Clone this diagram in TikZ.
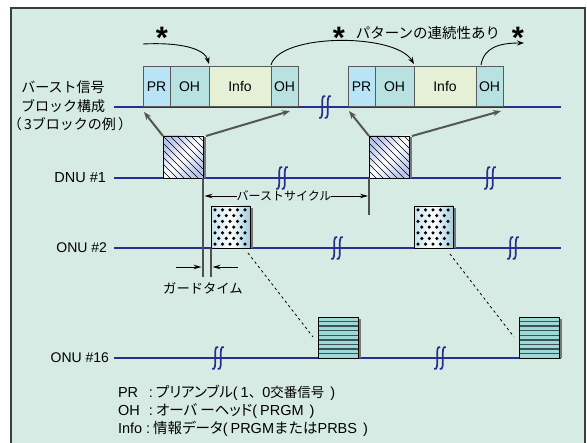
\documentclass[tikz,border=0pt]{standalone}
\usepackage{fontspec}
\setmainfont{Liberation Sans}
\newfontfamily\jp{Noto Sans CJK JP}
\newfontfamily\jpp[RawFeature={+palt}]{Noto Sans CJK JP}
\usetikzlibrary{arrows.meta,calc}
\definecolor{bg}{RGB}{214,235,227}
\definecolor{framec}{RGB}{60,60,60}
\definecolor{lineblue}{RGB}{38,48,140}
\definecolor{blkborder}{RGB}{90,90,90}
\definecolor{prc}{RGB}{185,228,245}
\definecolor{ohc}{RGB}{184,226,226}
\definecolor{infoc}{RGB}{230,240,215}
\definecolor{arrgrey}{RGB}{85,85,85}
\definecolor{vgrey}{RGB}{80,80,80}
\definecolor{hatchblue}{RGB}{185,198,235}
\definecolor{dotblue}{RGB}{160,205,222}
\definecolor{stripec}{RGB}{160,215,215}
\definecolor{stripedark}{RGB}{55,85,85}
\definecolor{shadowc}{RGB}{120,120,120}
\newcommand\jq[2]{{\fontsize{#1}{#1}\jp #2}}
\newcommand\jr[2]{{\fontsize{#1}{#1}\jpp #2}}
\tikzset{
  blk/.style={draw=blkborder, line width=1pt, minimum height=40pt, inner sep=0pt, outer sep=0pt, font=\fontsize{14}{16}\selectfont},
  lbl/.style={inner sep=0pt, outer sep=0pt, font=\fontsize{14}{16}\selectfont},
  leg/.style={inner sep=0pt, outer sep=0pt, font=\fontsize{14.5}{16}\selectfont},
  starl/.style={inner sep=0pt, outer sep=0pt, font=\fontsize{31}{31}\selectfont\bfseries},
  tline/.style={draw=lineblue, line width=2pt},
  squigl/.style={draw=lineblue, line width=1.7pt},
  garrow/.style={draw=arrgrey, line width=2pt, -{Stealth[length=8pt,width=6pt]}},
  carrow/.style={draw=black, line width=0.9pt, -{Stealth[length=7pt,width=5pt]}},
  marrow/.style={draw=black, line width=0.9pt, -{Stealth[length=8pt,width=4.5pt]}},
  vline/.style={draw=vgrey, line width=1.3pt},
  hbox/.style={draw=black, line width=0.8pt, minimum width=40pt, minimum height=42pt, inner sep=0pt, outer sep=0pt, left color=hatchblue, right color=hatchblue, middle color=white, shading angle=45},
  dbox/.style={draw=black, line width=0.8pt, minimum width=39pt, minimum height=42pt, inner sep=0pt, outer sep=0pt, left color=dotblue!60, right color=dotblue, middle color=white},
  sbox/.style={draw=black, line width=0.8pt, minimum width=40pt, minimum height=41pt, inner sep=0pt, outer sep=0pt, fill=stripec},
  dashl/.style={draw=black, line width=0.8pt, dash pattern=on 2.5pt off 3pt},
}
\newcommand\squig[2]{%
  \foreach \dx in {-2.8,2.8}{%
    \draw[squigl] (#1+\dx+3,#2-11) .. controls (#1+\dx-0.5,#2-12) and (#1+\dx,#2-6) .. (#1+\dx,#2) .. controls (#1+\dx,#2+6) and (#1+\dx+0.5,#2+12) .. (#1+\dx-3,#2+11);}}
\begin{document}
\begin{tikzpicture}[x=1pt,y=-1pt]
\useasboundingbox (0,0) rectangle (587,443);
\draw[framec, line width=1.2pt, fill=bg] (11,8) rectangle (585,455);

% time lines
\coordinate (bL) at (114,107); \coordinate (bR) at (561,107);
\coordinate (dL) at (114,178); \coordinate (dR) at (561,178);
\coordinate (o2L) at (114,248); \coordinate (o2R) at (561,248);
\coordinate (o16L) at (114,358); \coordinate (o16R) at (561,358);
\draw[tline] (bL) -- (bR);
\draw[tline] (dL) -- (dR);
\draw[tline] (o2L) -- (o2R);
\draw[tline] (o16L) -- (o16R);

% labels
\node[lbl] (lb1) at (63,87) {\jq{14}{バースト信号}};
\node[lbl] (lb2) at (63,106) {\jq{14}{ブロック構成}};
\node[lbl] (lb3) at (70,124) {\jq{14}{（\,3ブロックの例\,）}};
\node[lbl, anchor=east, font=\fontsize{14.5}{16}\selectfont] (ldnu) at (106,178) {DNU \#1};
\node[lbl, anchor=east] (lo2) at (107,248) {ONU \#2};
\node[lbl, anchor=east] (lo16) at (109,358) {ONU \#16};

% blocks
\node[blk, fill=prc, minimum width=27pt] (pr1) at (156.5,87) {PR};
\node[blk, fill=ohc, minimum width=39pt] (oh1) at (189.5,87) {OH};
\node[blk, fill=infoc, minimum width=62pt] (in1) at (240,87) {Info};
\node[blk, fill=ohc, minimum width=27pt] (oh1b) at (284.5,87) {OH};
\node[blk, fill=prc, minimum width=27pt] (pr2) at (361.5,87) {PR};
\node[blk, fill=ohc, minimum width=39pt] (oh2) at (394.5,87) {OH};
\node[blk, fill=infoc, minimum width=62pt] (in2) at (445,87) {Info};
\node[blk, fill=ohc, minimum width=27pt] (oh2b) at (489.5,87) {OH};

% curved arrows and stars
\coordinate (s1) at (143,44);
\coordinate (e3) at (524,43);
\draw[carrow] (s1) .. controls (185,42) and (205,50) .. ($(in1.north west)+(0,-3)$);
\draw[carrow] ($(oh1b.north west)+(0,-2)$) .. controls (280,33) and (395,33) .. ($(in2.north west)+(0,-3)$);
\draw[carrow] ($(oh2b.north west)+(5,-2)$) .. controls (484,48) and (498,43) .. (e3);
\node[starl] (st1) at (162,38) {*};
\node[starl] (st2) at (339,38) {*};
\node[lbl] (pat) at (428,33) {\jq{14.5}{パターンの連続性あり}};
\node[starl] (st3) at (518,38) {*};

% hatched boxes on DNU line
\fill[shadowc] (204,137) rectangle (205.5,178);
\fill[shadowc] (410,137) rectangle (411.5,178);
\node[hbox] (h1) at (183,157) {};
\node[hbox] (h2) at (389,157) {};
\foreach \hb in {h1,h2}{
  \begin{scope}
    \clip (\hb.south west) rectangle (\hb.north east);
    \foreach \d in {-42,-35,...,42}
      \draw[black, line width=0.65pt] ($(\hb.north west)+(\d,0)$) -- ++(45,45);
  \end{scope}
  \draw[black, line width=0.8pt] (\hb.south west) rectangle (\hb.north east);
}
\draw[garrow] (h1.north west) -- ($(pr1.south west)+(1,5)$);
\draw[garrow] ($(h1.north east)+(3,0)$) -- ($(oh1b.south east)+(-8,4)$);
\draw[garrow] (h2.north west) -- ($(pr2.south west)+(1,4)$);
\draw[garrow] ($(h2.north east)+(3,0)$) -- ($(oh2b.south east)+(-2,4)$);

% dotted boxes on ONU #2 line
\fill[shadowc] (250.5,208) rectangle (252.5,248);
\fill[shadowc] (453.5,208) rectangle (455.5,248);
\node[dbox] (d1) at (230.5,227) {};
\node[dbox] (d2) at (433.5,227) {};
\foreach \db in {d1,d2}{
  \foreach \r in {0,2,4,6}
    \foreach \i in {0,...,4}
      \fill ($(\db.north west)+(4+7.5*\i,4+5.7*\r)$) circle (1.75pt);
  \foreach \r in {1,3,5}
    \foreach \i in {0,...,3}
      \fill ($(\db.north west)+(7.75+7.5*\i,4+5.7*\r)$) circle (1.75pt);
}

% striped boxes on ONU #16 line
\fill[shadowc] (358.5,319) rectangle (360.5,358);
\fill[shadowc] (559.5,319) rectangle (561.5,358);
\node[sbox] (sb1) at (338,337.5) {};
\node[sbox] (sb2) at (539,337.5) {};
\foreach \sb in {sb1,sb2}{
  \foreach \k in {1,...,8}
    \draw[stripedark, line width=1.4pt] ($(\sb.north west)+(0,4.6*\k)$) -- ++(40,0);
  \draw[black, line width=0.8pt] (\sb.south west) rectangle (\sb.north east);
}

% dashed links
\draw[dashl] ($(d1.south east)+(-2,5)$) -- ($(sb1.north west)+(-5,20)$);
\draw[dashl] ($(d2.south east)+(-3,6)$) -- ($(sb2.north west)+(-5,20)$);

% squiggles
\squig{325}{107}
\squig{282}{178}
\squig{490}{178}
\squig{337}{248}
\squig{513}{248}
\squig{218}{358}
\squig{440}{358}

% burst cycle
\draw[vline] (h1.south east) -- ++(0,99);
\draw[vline] (h2.south west) -- ++(0,37);
\draw[vline] (d1.south west) -- ++(0,29);
\node[lbl] (bc) at (284,196) {\jq{12}{バーストサイクル}};
\coordinate (c1) at (204.5,196);
\coordinate (c2) at (368,196);
\draw[marrow] (bc.west) -- (c1);
\draw[marrow] (bc.east) -- (c2);

% guard time
\coordinate (g1s) at (176,267); \coordinate (g1e) at (201.5,267);
\coordinate (g2s) at (238,267); \coordinate (g2e) at (212.5,267);
\draw[marrow] (g1s) -- (g1e);
\draw[marrow] (g2s) -- (g2e);
\node[lbl] (gt) at (203,288) {\jq{13.3}{ガードタイム}};

% legend
\node[leg, anchor=west] (lg1) at (118,393) {\makebox[31pt][l]{PR}:\hspace{3pt}\jr{14.5}{プリアンブル}(\hspace{3pt}1\jq{13.5}{、}0\jq{13.5}{交番信号}\hspace{2pt} )};
\node[leg, anchor=west] (lg2) at (118,411) {\makebox[31pt][l]{OH}:\hspace{3pt}\jr{14.5}{オーバ ーヘッド}(\hspace{3pt}PRGM\hspace{2pt} )};
\node[leg, anchor=west] (lg3) at (118,429) {Info :\hspace{3pt}\jr{14.5}{情報データ}(\hspace{3pt}PRGM\jq{14.5}{または}PRBS\hspace{2pt} )};
\end{tikzpicture}
\end{document}
